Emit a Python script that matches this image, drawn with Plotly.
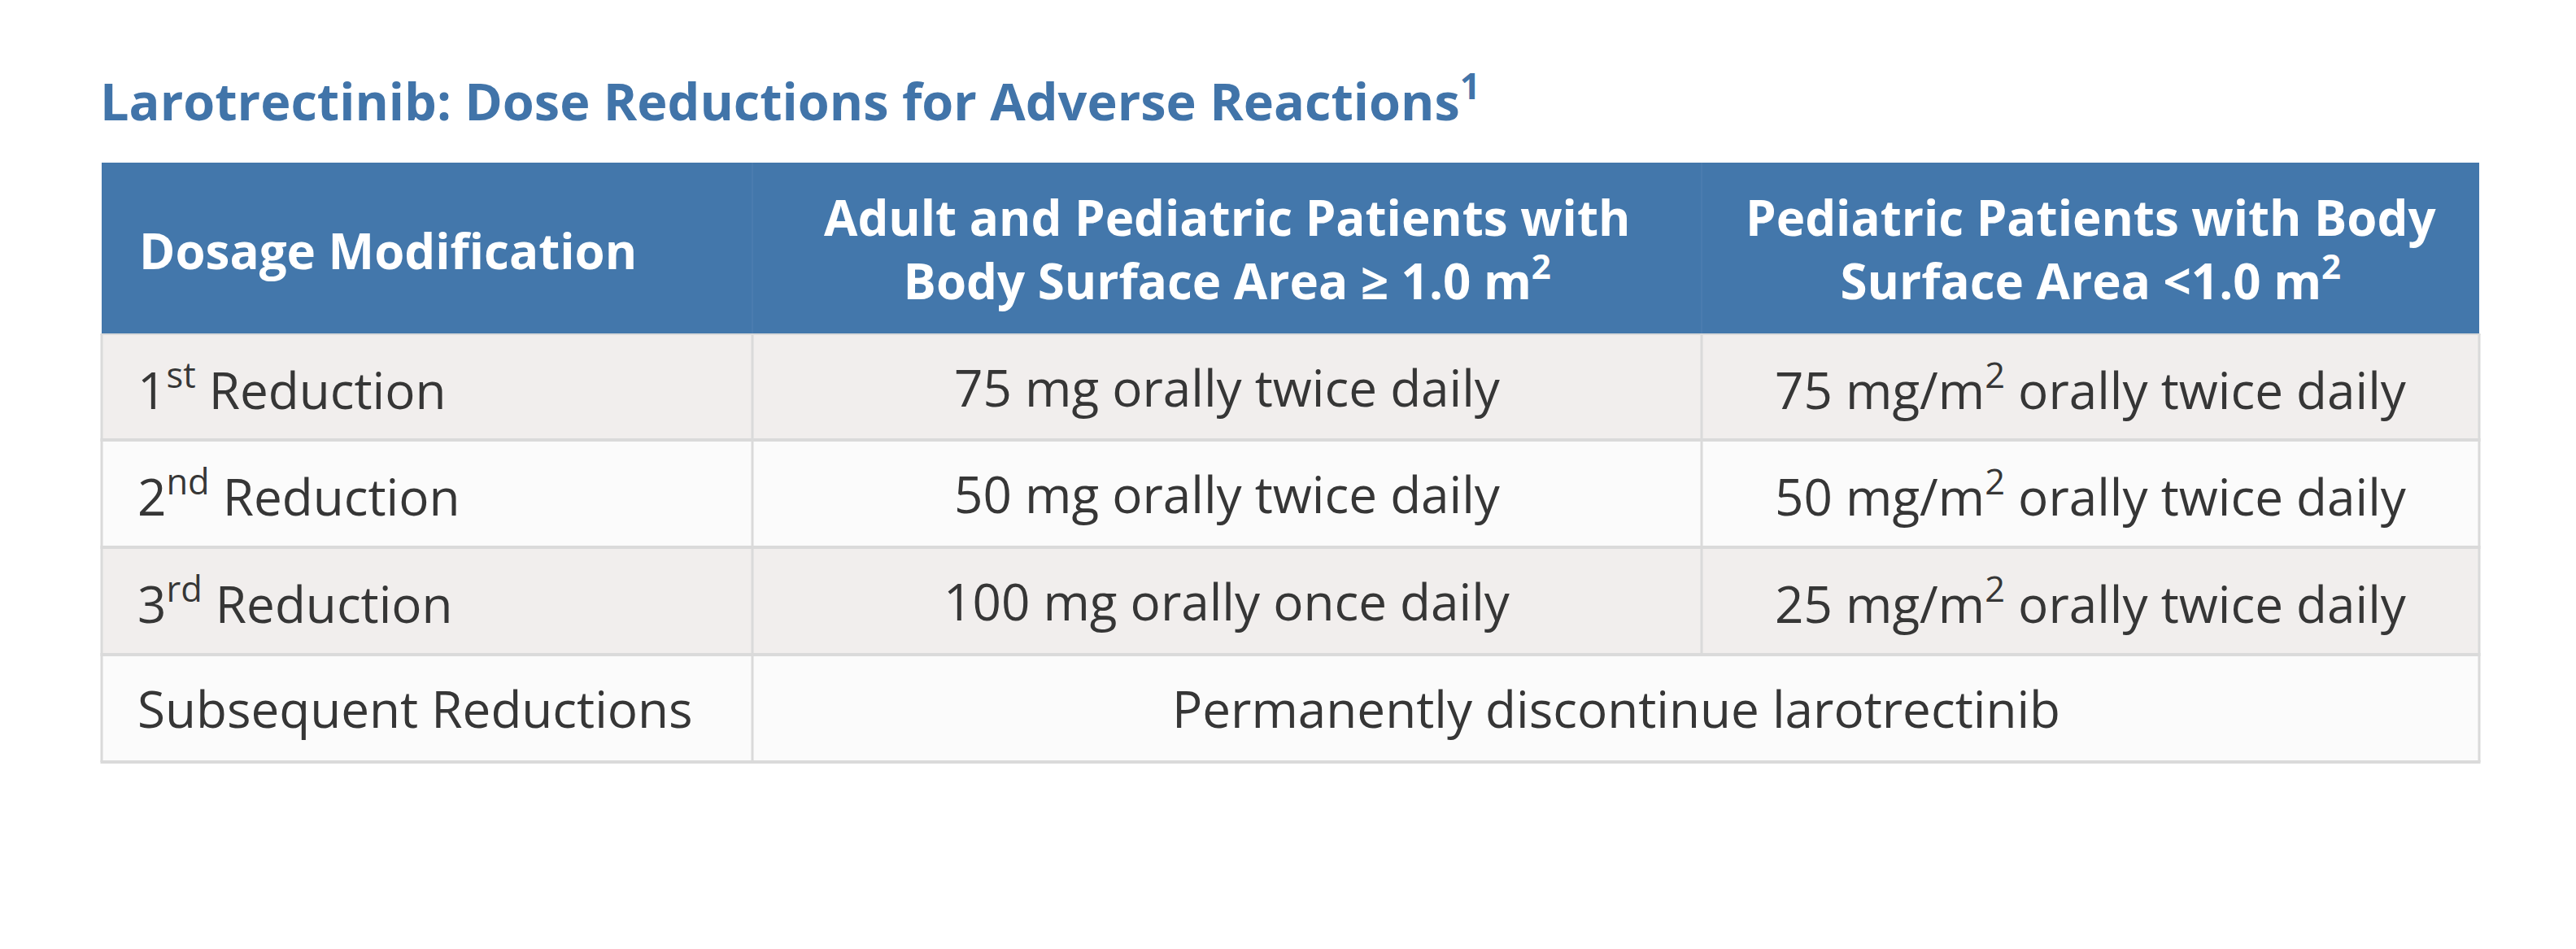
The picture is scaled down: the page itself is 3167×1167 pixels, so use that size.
import plotly.graph_objects as go

# ---- data ----
title_text = "Larotrectinib: Dose Reductions for Adverse Reactions<sup>1</sup>"
header_labels = [
    "Dosage Modification",
    "Adult and Pediatric Patients with<br>Body Surface Area ≥ 1.0 m<sup>2</sup>",
    "Pediatric Patients with Body<br>Surface Area &lt;1.0 m<sup>2</sup>",
]
row_labels = [
    "1<sup>st</sup> Reduction",
    "2<sup>nd</sup> Reduction",
    "3<sup>rd</sup> Reduction",
    "Subsequent Reductions",
]
adult_doses = [
    "75 mg orally twice daily",
    "50 mg orally twice daily",
    "100 mg orally once daily",
]
pediatric_doses = [
    "75 mg/m<sup>2</sup> orally twice daily",
    "50 mg/m<sup>2</sup> orally twice daily",
    "25 mg/m<sup>2</sup> orally twice daily",
]
merged_text = "Permanently discontinue larotrectinib"

# ---- layout geometry (page pixels; page body has an 8px margin) ----
W, H = 3167, 1167
OFF = 8
col_edges = [125, 925, 2092, 3048]
header_top, header_bottom = 200, 411
row_edges = [411, 541, 673, 805, 937]

BLUE = "#4377ab"
TITLE_BLUE = "#4174a9"
ROW_BG = ["#f1eeed", "#fbfbfb"]
BORDER = "#dadada"
TEXT = "#363636"
FONT = "Open Sans"

fig = go.Figure()
shapes = []
ann = []

shapes.append(dict(type="rect", xref="x", yref="y", x0=col_edges[0], x1=col_edges[-1],
                   y0=header_top, y1=header_bottom, fillcolor=BLUE, line_width=0, layer="below"))
for cx in col_edges[1:-1]:
    shapes.append(dict(type="line", xref="x", yref="y", x0=cx, x1=cx, y0=header_top, y1=header_bottom,
                       line=dict(color="#4a7caf", width=2)))

for i in range(len(row_labels)):
    shapes.append(dict(type="rect", xref="x", yref="y", x0=col_edges[0], x1=col_edges[-1],
                       y0=row_edges[i], y1=row_edges[i + 1], fillcolor=ROW_BG[i % 2],
                       line_width=0, layer="below"))

for i, ry in enumerate(row_edges):
    shapes.append(dict(type="line", xref="x", yref="y", x0=col_edges[0] - 1.5, x1=col_edges[-1] + 1.5,
                       y0=ry, y1=ry, line=dict(color=BORDER, width=2 if i == 0 else 4)))
for cx in [col_edges[0], col_edges[1], col_edges[-1]]:
    shapes.append(dict(type="line", xref="x", yref="y", x0=cx, x1=cx, y0=row_edges[0], y1=row_edges[-1],
                       line=dict(color=BORDER, width=3)))
shapes.append(dict(type="line", xref="x", yref="y", x0=col_edges[2], x1=col_edges[2],
                   y0=row_edges[0], y1=row_edges[-2], line=dict(color=BORDER, width=3)))

# title
ann.append(dict(x=col_edges[0] - 4, y=120, xref="x", yref="y", text="<b>" + title_text + "</b>",
                showarrow=False, xanchor="left", yanchor="middle",
                font=dict(family=FONT, size=63, color=TITLE_BLUE)))

# header text
HEAD_SIZE = 60
hy = (header_top + header_bottom) / 2
ann.append(dict(x=col_edges[0] + 44, y=hy + 2, xref="x", yref="y", text="<b>" + header_labels[0] + "</b>",
                showarrow=False, xanchor="left", yanchor="middle",
                font=dict(family=FONT, size=HEAD_SIZE, color="white")))
for j in (1, 2):
    ann.append(dict(x=(col_edges[j] + col_edges[j + 1]) / 2, y=hy, xref="x", yref="y",
                    text="<b>" + header_labels[j] + "</b>", showarrow=False,
                    xanchor="center", yanchor="middle", align="center",
                    font=dict(family=FONT, size=HEAD_SIZE, color="white")))

# body text
BODY_SIZE = 62
for i, lab in enumerate(row_labels):
    cy = (row_edges[i] + row_edges[i + 1]) / 2
    ann.append(dict(x=col_edges[0] + 42, y=cy, xref="x", yref="y", text=lab, showarrow=False,
                    xanchor="left", yanchor="middle", font=dict(family=FONT, size=BODY_SIZE, color=TEXT)))
for i in range(len(adult_doses)):
    cy = (row_edges[i] + row_edges[i + 1]) / 2
    ann.append(dict(x=(col_edges[1] + col_edges[2]) / 2, y=cy, xref="x", yref="y", text=adult_doses[i],
                    showarrow=False, xanchor="center", yanchor="middle",
                    font=dict(family=FONT, size=BODY_SIZE, color=TEXT)))
    ann.append(dict(x=(col_edges[2] + col_edges[3]) / 2, y=cy, xref="x", yref="y", text=pediatric_doses[i],
                    showarrow=False, xanchor="center", yanchor="middle",
                    font=dict(family=FONT, size=BODY_SIZE, color=TEXT)))
cy = (row_edges[3] + row_edges[4]) / 2
ann.append(dict(x=(col_edges[1] + col_edges[3]) / 2, y=cy, xref="x", yref="y", text=merged_text,
                showarrow=False, xanchor="center", yanchor="middle",
                font=dict(family=FONT, size=BODY_SIZE, color=TEXT)))

fig.update_layout(
    width=W - OFF, height=H - OFF, margin=dict(l=0, r=0, t=0, b=0),
    paper_bgcolor="white", plot_bgcolor="white",
    xaxis=dict(range=[OFF, W], visible=False, fixedrange=True),
    yaxis=dict(range=[H, OFF], visible=False, fixedrange=True),
    shapes=shapes, annotations=ann, showlegend=False,
)
fig.write_html("out.html", config={"displayModeBar": False})
